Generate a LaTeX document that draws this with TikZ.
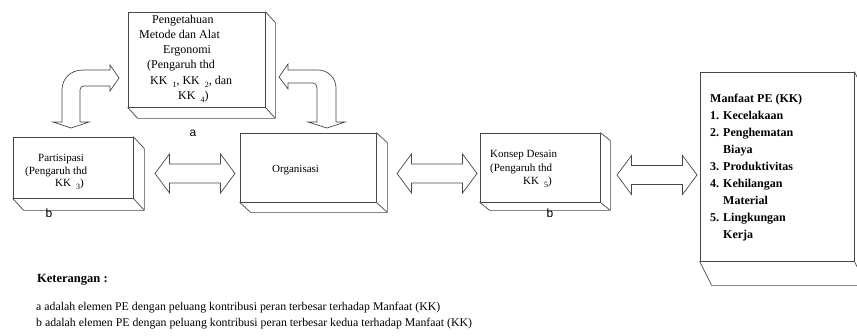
\documentclass[tikz,border=0pt]{standalone}
\usepackage{fontspec}
\setmainfont{Liberation Serif}
\newfontfamily\labelfont{Liberation Sans}
\usetikzlibrary{calc}

\tikzset{
  edge/.style={draw=black!72, line width=0.7pt, line join=miter},
  face/.style={edge, fill=white, rectangle, inner sep=0pt},
  blk/.style={edge, fill=white},
  txt/.style={inner sep=0pt, anchor=base west, font=\fontsize{11}{13}\selectfont},
  bigtxt/.style={txt, font=\fontsize{12}{14}\selectfont},
  boldtxt/.style={txt, font=\fontsize{12}{14}\selectfont\bfseries},
  headtxt/.style={txt, font=\fontsize{12.5}{14}\selectfont\bfseries},
  notetxt/.style={txt, font=\fontsize{11.8}{13}\selectfont},
  tag/.style={inner sep=0pt, font=\labelfont\fontsize{12}{12}\selectfont},
}

% subscript index written after "KK"
\newcommand\kkidx[1]{\hspace{5pt}\raisebox{-3.5pt}{\fontsize{8}{8}\selectfont #1}}
% lower-right extrusion of a box node: #1 node, #2/#3 depth offset
\newcommand\extrude[3]{%
  \draw[edge] (#1.north east) -- ++(#2,#3) -- ($(#1.south east)+(#2,#3)$)
    -- ($(#1.south west)+(#2,#3)$) -- (#1.south west)
    (#1.south east) -- ++(#2,#3);}
% horizontal double block arrow between two tip coordinates
\newcommand\blockarrow[2]{%
  \draw[blk] let \p1=(#1), \p2=(#2) in
    (\p1) -- ++(14.5pt,19.5pt) -- ++(0pt,-10pt) -- (\x2-14.5pt,\y1+9.5pt)
    -- ++(0pt,10pt) -- (\p2) -- ++(-14.5pt,-19.5pt) -- ++(0pt,10pt)
    -- (\x1+14.5pt,\y1-9.5pt) -- ++(0pt,-10pt) -- cycle;}

\begin{document}
\begin{tikzpicture}[x=1pt,y=-1pt]
\useasboundingbox (0,0) rectangle (857,335);
\clip (0,0) rectangle (857,335);

% boxes (front faces)
\node[face, minimum width=137pt, minimum height=95pt]  (know)    at (196.5,59.5) {};
\node[face, minimum width=120pt, minimum height=61pt]  (part)    at (73,167.5) {};
\node[face, minimum width=136pt, minimum height=69pt]  (org)     at (308,167.5) {};
\node[face, minimum width=120pt, minimum height=69pt]  (design)  at (540,167.5) {};
\node[face, minimum width=154pt, minimum height=189pt] (benefit) at (777,166.5) {};

\extrude{know}{10}{11}
\extrude{part}{11}{12}
\extrude{org}{11}{10}
\extrude{design}{10}{8}
\extrude{benefit}{12}{24}

% straight double arrows
\coordinate (p1) at (155,173.5); \coordinate (p2) at (235,173.5);
\coordinate (q1) at (397,173.5); \coordinate (q2) at (477,173.5);
\coordinate (r1) at (617,175);   \coordinate (r2) at (697,175);
\blockarrow{p1}{p2}
\blockarrow{q1}{q2}
\blockarrow{r1}{r2}

% bent double arrows
\draw[blk] (119,78) -- (110,65) -- (110,70) -- (83,70)
  .. controls (71,70) and (62,78) .. (62,90) -- (62,122) -- (53,122)
  -- (71,128) -- (89,122) -- (80,122) -- (80,90)
  .. controls (80,87.5) and (81.5,86) .. (84,86) -- (110,86) -- (110,91) -- cycle;
\draw[blk] (279,77) -- (288,64) -- (288,70) -- (318,70)
  .. controls (328,70) and (336,78) .. (336,88) -- (336,122) -- (345,122)
  -- (327,128) -- (308,122) -- (317,122) -- (317,88)
  .. controls (317,85) and (315.5,83) .. (313,83) -- (288,83) -- (288,89) -- cycle;

% texts: knowledge box
\node[bigtxt] (k1) at (152,23) {Pengetahuan};
\node[bigtxt] (k2) at (139,38) {Metode dan Alat};
\node[bigtxt] (k3) at (163,53) {Ergonomi};
\node[bigtxt] (k4) at (147,68) {(Pengaruh thd};
\node[bigtxt] (k5) at (150,84) {KK\kkidx{1}, KK\kkidx{2}, dan};
\node[bigtxt] (k6) at (178,99) {KK\kkidx{4})};

% participation box
\node[txt] (pa1) at (38,161) {Partisipasi};
\node[txt] (pa2) at (25,174) {(Pengaruh thd};
\node[txt] (pa3) at (55,186) {KK\kkidx{3})};

% organisation box
\node[txt] (or1) at (272,172) {Organisasi};

% design box
\node[txt] (de1) at (490,157) {Konsep Desain};
\node[txt] (de2) at (490,171) {(Pengaruh thd};
\node[txt] (de3) at (523,184) {KK\kkidx{5})};

% benefit box
\node[boldtxt] (be0) at (710,102) {Manfaat PE (KK)};
\node[boldtxt] (be1) at (710,119) {\makebox[13pt][l]{1.}Kecelakaan};
\node[boldtxt] (be2) at (710,136) {\makebox[13pt][l]{2.}Penghematan};
\node[boldtxt] (be3) at (723,153) {Biaya};
\node[boldtxt] (be4) at (710,170) {\makebox[13pt][l]{3.}Produktivitas};
\node[boldtxt] (be5) at (710,187) {\makebox[13pt][l]{4.}Kehilangan};
\node[boldtxt] (be6) at (723,204) {Material};
\node[boldtxt] (be7) at (710,221) {\makebox[13pt][l]{5.}Lingkungan};
\node[boldtxt] (be8) at (723,238) {Kerja};

% element tags
\node[tag] (ta) at (193,133) {a};
\node[tag] (tb1) at (49,213) {b};
\node[tag] (tb2) at (550,213) {b};

% legend
\node[headtxt] (n0) at (37,282) {Keterangan :};
\node[notetxt] (n1) at (36,310) {a adalah elemen PE dengan peluang kontribusi peran terbesar terhadap Manfaat (KK)};
\node[notetxt] (n2) at (36,326) {b adalah elemen PE dengan peluang kontribusi peran terbesar kedua terhadap Manfaat (KK)};
\end{tikzpicture}
\end{document}
